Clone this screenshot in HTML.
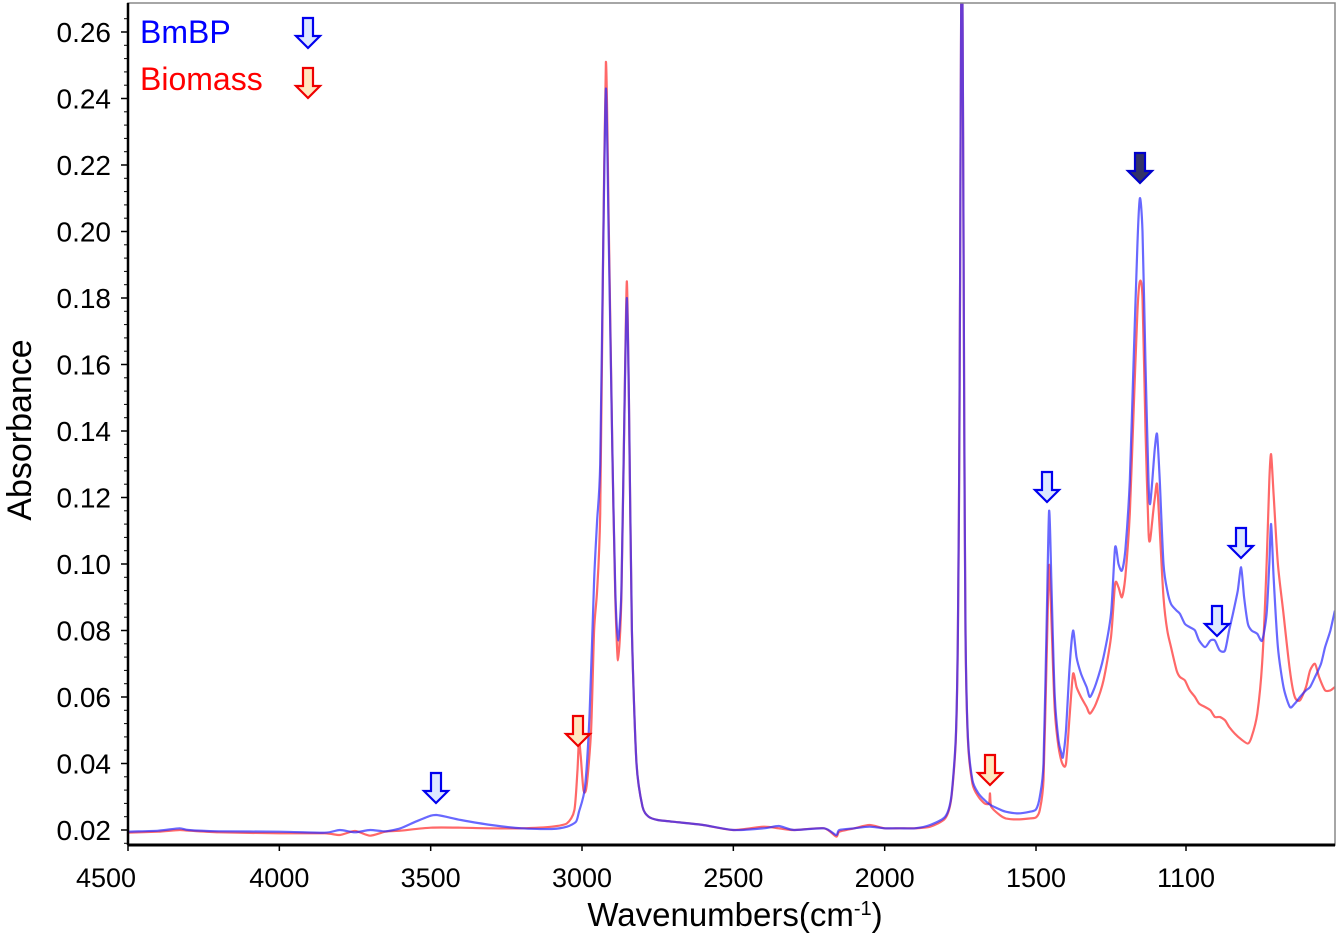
<!DOCTYPE html>
<html><head><meta charset="utf-8"><style>
body{margin:0;background:#fff;}
svg{display:block;font-family:"Liberation Sans",Arial,sans-serif;}
</style></head><body>
<svg id="chart" width="1339" height="933" viewBox="0 0 1339 933" style="position:absolute;left:0;top:0">
<g id="grid"></g>
<g id="series"></g>
<g id="arrows"></g>
<g id="axes"></g>
</svg>
<script>
const xTicks=[4500,4000,3500,3000,2500,2000,1500,1100];
const yTicks=[0.02,0.04,0.06,0.08,0.10,0.12,0.14,0.16,0.18,0.20,0.22,0.24,0.26];
const blueWn=[4500,4400,4330,4300,4200,4000,3850,3800,3750,3700,3650,3600,3550,3500,3480,3450,3400,3300,3200,3100,3050,3020,3010,2990,2975,2960,2950,2940,2930,2921,2912,2900,2890,2881,2870,2860,2852,2845,2835,2820,2800,2780,2750,2700,2600,2500,2400,2350,2300,2200,2160,2150,2100,2050,2000,1950,1900,1850,1800,1780,1765,1758,1753,1749,1745,1741,1737,1733,1725,1710,1690,1670,1650,1620,1600,1560,1520,
1500,1490,1480,1472,1465,1458,1450,1440,1432,1428,1420,1410,1401,1392,1380,1365,1356,1340,1320,1300,1289,1280,1271,1262,1250,1240,1230,1223,1216,1208,1200,1196,1190,1183,1177,1170,1160,1150,1140,1125,1116,1103,1090,1076,1065,1049,1035,1023,1010,996,985,975,962,953,945,935,925,910,897,885,878,873,866,855,840,823,810,796,780,769,756,740,729,715,703];
const blueAbs=[0.0195,0.0198,0.0205,0.0200,0.0196,0.0195,0.0192,0.0200,0.0193,0.0200,0.0196,0.0205,0.0225,0.0243,0.0245,0.0240,0.0230,0.0215,0.0205,0.0203,0.0210,0.0225,0.0255,0.0330,0.0550,0.0950,0.1130,0.1300,0.1950,0.2430,0.2000,0.1350,0.0920,0.0770,0.0920,0.1450,0.1800,0.1500,0.0800,0.0400,0.0270,0.0240,0.0230,0.0225,0.0215,0.0200,0.0205,0.0212,0.0200,0.0205,0.0185,0.0200,0.0205,0.0210,0.0205,0.0205,0.0205,0.0215,0.0240,0.0300,0.0480,0.0800,0.1400,0.2300,0.3000,0.2300,0.1400,0.0800,0.0480,0.0350,0.0310,0.0290,0.0275,0.0262,0.0255,0.0250,0.0255,
0.0262,0.030,0.040,0.080,0.116,0.090,0.060,0.047,0.043,0.042,0.050,0.070,0.080,0.072,0.067,0.063,0.060,0.064,0.072,0.085,0.105,0.100,0.098,0.104,0.125,0.160,0.195,0.210,0.200,0.160,0.125,0.118,0.125,0.135,0.139,0.125,0.100,0.092,0.088,0.086,0.085,0.082,0.081,0.080,0.077,0.075,0.077,0.077,0.074,0.074,0.080,0.085,0.092,0.099,0.090,0.082,0.080,0.079,0.077,0.085,0.100,0.112,0.095,0.075,0.063,0.057,0.058,0.060,0.062,0.063,0.066,0.070,0.075,0.080,0.086];
const redWn=[4500,4400,4330,4300,4200,4000,3850,3800,3750,3700,3650,3600,3500,3400,3300,3200,3100,3050,3025,3015,3010,3004,2995,2985,2970,2960,2950,2940,2930,2921,2912,2900,2890,2881,2870,2860,2852,2845,2835,2820,2800,2780,2750,2700,2600,2500,2400,2350,2300,2200,2160,2150,2100,2050,2000,1950,1900,1850,1800,1780,1765,1758,1753,1749,1745,1741,1737,1733,1725,1710,1690,1670,1655,1652,1648,1620,1600,1560,1520,
1500,1490,1480,1472,1465,1458,1450,1440,1430,1420,1410,1401,1392,1380,1365,1356,1340,1320,1300,1289,1280,1271,1262,1250,1240,1230,1223,1216,1208,1200,1196,1190,1183,1177,1170,1160,1150,1140,1125,1116,1103,1090,1076,1065,1049,1035,1023,1010,996,985,970,950,935,925,910,897,885,878,873,866,855,840,823,810,796,780,769,756,745,729,715,703];
const redAbs=[0.0192,0.0195,0.0200,0.0198,0.0193,0.0190,0.0190,0.0185,0.0197,0.0183,0.0195,0.0198,0.0207,0.0207,0.0205,0.0205,0.0210,0.0220,0.0260,0.0380,0.0470,0.0420,0.0320,0.0330,0.0500,0.0800,0.0920,0.1150,0.1950,0.2510,0.2050,0.1350,0.0900,0.0710,0.0900,0.1450,0.1850,0.1500,0.0800,0.0400,0.0270,0.0240,0.0230,0.0225,0.0215,0.0200,0.0210,0.0205,0.0200,0.0205,0.0180,0.0195,0.0205,0.0215,0.0205,0.0205,0.0205,0.0210,0.0235,0.0295,0.0470,0.0790,0.1390,0.2290,0.3000,0.2290,0.1390,0.0790,0.0470,0.0340,0.0300,0.0280,0.0280,0.0310,0.0270,0.0245,0.0235,0.0232,0.0235,
0.0238,0.026,0.035,0.070,0.0997,0.080,0.056,0.045,0.040,0.040,0.055,0.067,0.063,0.060,0.057,0.055,0.058,0.065,0.078,0.094,0.093,0.090,0.096,0.115,0.145,0.175,0.185,0.180,0.140,0.110,0.107,0.113,0.120,0.124,0.110,0.090,0.080,0.075,0.068,0.066,0.065,0.062,0.060,0.058,0.057,0.056,0.054,0.054,0.053,0.051,0.049,0.047,0.046,0.048,0.055,0.070,0.100,0.125,0.133,0.120,0.100,0.085,0.068,0.060,0.059,0.063,0.068,0.070,0.066,0.062,0.062,0.063];
const NS="http://www.w3.org/2000/svg";
const L=128,R=1335,T=3,B=845;
function xs(w){return w>=1500?L+(4500-w)*0.30267:1036+(1500-w)*0.375;}
function ys(v){return 830-(v-0.02)*3325;}
function mk(tag,attrs,parent){const e=document.createElementNS(NS,tag);for(const k in attrs)e.setAttribute(k,attrs[k]);parent.appendChild(e);return e;}
const axes=document.getElementById('axes'),ser=document.getElementById('series'),arr=document.getElementById('arrows');
const defs=mk('defs',{},document.getElementById('chart'));
const cp=mk('clipPath',{id:'clip'},defs);mk('rect',{x:L,y:T,width:R-L,height:B-T},cp);
function line(wn,ab,color,name){
  const pts=wn.map((w,i)=>[xs(w),ys(ab[i])]);
  let d='M'+pts[0][0].toFixed(1)+','+pts[0][1].toFixed(1);
  for(let i=0;i<pts.length-1;i++){
    const p0=pts[Math.max(0,i-1)],p1=pts[i],p2=pts[i+1],p3=pts[Math.min(pts.length-1,i+2)];
    const t=0.12;
    const c1=[p1[0]+(p2[0]-p0[0])*t,p1[1]+(p2[1]-p0[1])*t];
    const c2=[p2[0]-(p3[0]-p1[0])*t,p2[1]-(p3[1]-p1[1])*t];
    d+='C'+c1[0].toFixed(1)+','+c1[1].toFixed(1)+' '+c2[0].toFixed(1)+','+c2[1].toFixed(1)+' '+p2[0].toFixed(1)+','+p2[1].toFixed(1);
  }
  const p=mk('path',{d:d,fill:'none',stroke:color,'stroke-width':2.2,'stroke-linejoin':'round','clip-path':'url(#clip)'},ser);
  
  
}
line(redWn,redAbs,'rgba(255,40,40,0.7)','biomass-spectrum');
line(blueWn,blueAbs,'rgba(40,40,255,0.7)','bmbp-spectrum');
const fr=mk('rect',{x:L,y:T,width:R-L,height:B-T,fill:'none',stroke:'#888','stroke-width':1.5},axes);

const la=mk('line',{x1:L,y1:T,x2:L,y2:B,stroke:'#000','stroke-width':2.5},axes);

const ba=mk('line',{x1:L,y1:B,x2:R,y2:B,stroke:'#000','stroke-width':3},axes);

yTicks.forEach(v=>{
  const y=ys(v);
  mk('line',{x1:L-7,y1:y,x2:L,y2:y,stroke:'#000','stroke-width':1.5},axes);
  const t=mk('text',{x:111,y:y+10,'text-anchor':'end','font-size':28,fill:'#000'},axes);
  t.textContent=v.toFixed(2);
  
  
});
for(let v=0.016;v<=0.268;v+=0.004){mk('line',{x1:L-4,y1:ys(v),x2:L,y2:ys(v),stroke:'#000','stroke-width':1},axes);}
xTicks.forEach((w,i)=>{
  const x=xs(w);
  mk('line',{x1:x,y1:B,x2:x,y2:B+6,stroke:'#000','stroke-width':1.5},axes);
  const t=mk('text',{x:i===0?106:x,y:887,'text-anchor':'middle','font-size':27,fill:'#000'},axes);
  t.textContent=w;
  
  
});
function arrow(cx,top,stroke,fill,name){
  const h=30;const d=`M${cx-5},${top}L${cx+5},${top}L${cx+5},${top+h-12}L${cx+12},${top+h-12}L${cx},${top+h}L${cx-12},${top+h-12}L${cx-5},${top+h-12}Z`;
  const p=mk('path',{d:d,fill:fill,stroke:stroke,'stroke-width':2.2},arr);
  
  
}
arrow(308,18,'#0000ee','#dde8ff','legend-arrow-bmbp');
arrow(308,68,'#ee0000','#ffe8c0','legend-arrow-biomass');
arrow(436,773,'#0000ee','#dde8ff','arrow-3480');
arrow(578,716,'#ee0000','#ffe8c0','arrow-3010');
arrow(990,755,'#ee0000','#ffe8c0','arrow-1650');
arrow(1047,472,'#0000ee','#dde8ff','arrow-1465');
arrow(1140,153,'#0000cc','#333366','arrow-1223');
arrow(1217,606,'#0000ee','#dde8ff','arrow-1020');
arrow(1241,528,'#0000ee','#dde8ff','arrow-956');
</script>
<svg style="position:absolute;left:0;top:0" width="1339" height="933">
<text x="140" y="43" font-size="32" fill="#0000ff" font-family="Liberation Sans, sans-serif">BmBP</text>
<text x="140" y="90" font-size="32" fill="#ff0000" font-family="Liberation Sans, sans-serif">Biomass</text>
<text transform="translate(31,430) rotate(-90)" text-anchor="middle" font-size="34" fill="#000" font-family="Liberation Sans, sans-serif">Absorbance</text>
<text x="735" y="926" text-anchor="middle" font-size="33" fill="#000" font-family="Liberation Sans, sans-serif">Wavenumbers(cm<tspan baseline-shift="super" font-size="20">-1</tspan>)</text>
</svg>
</body></html>
